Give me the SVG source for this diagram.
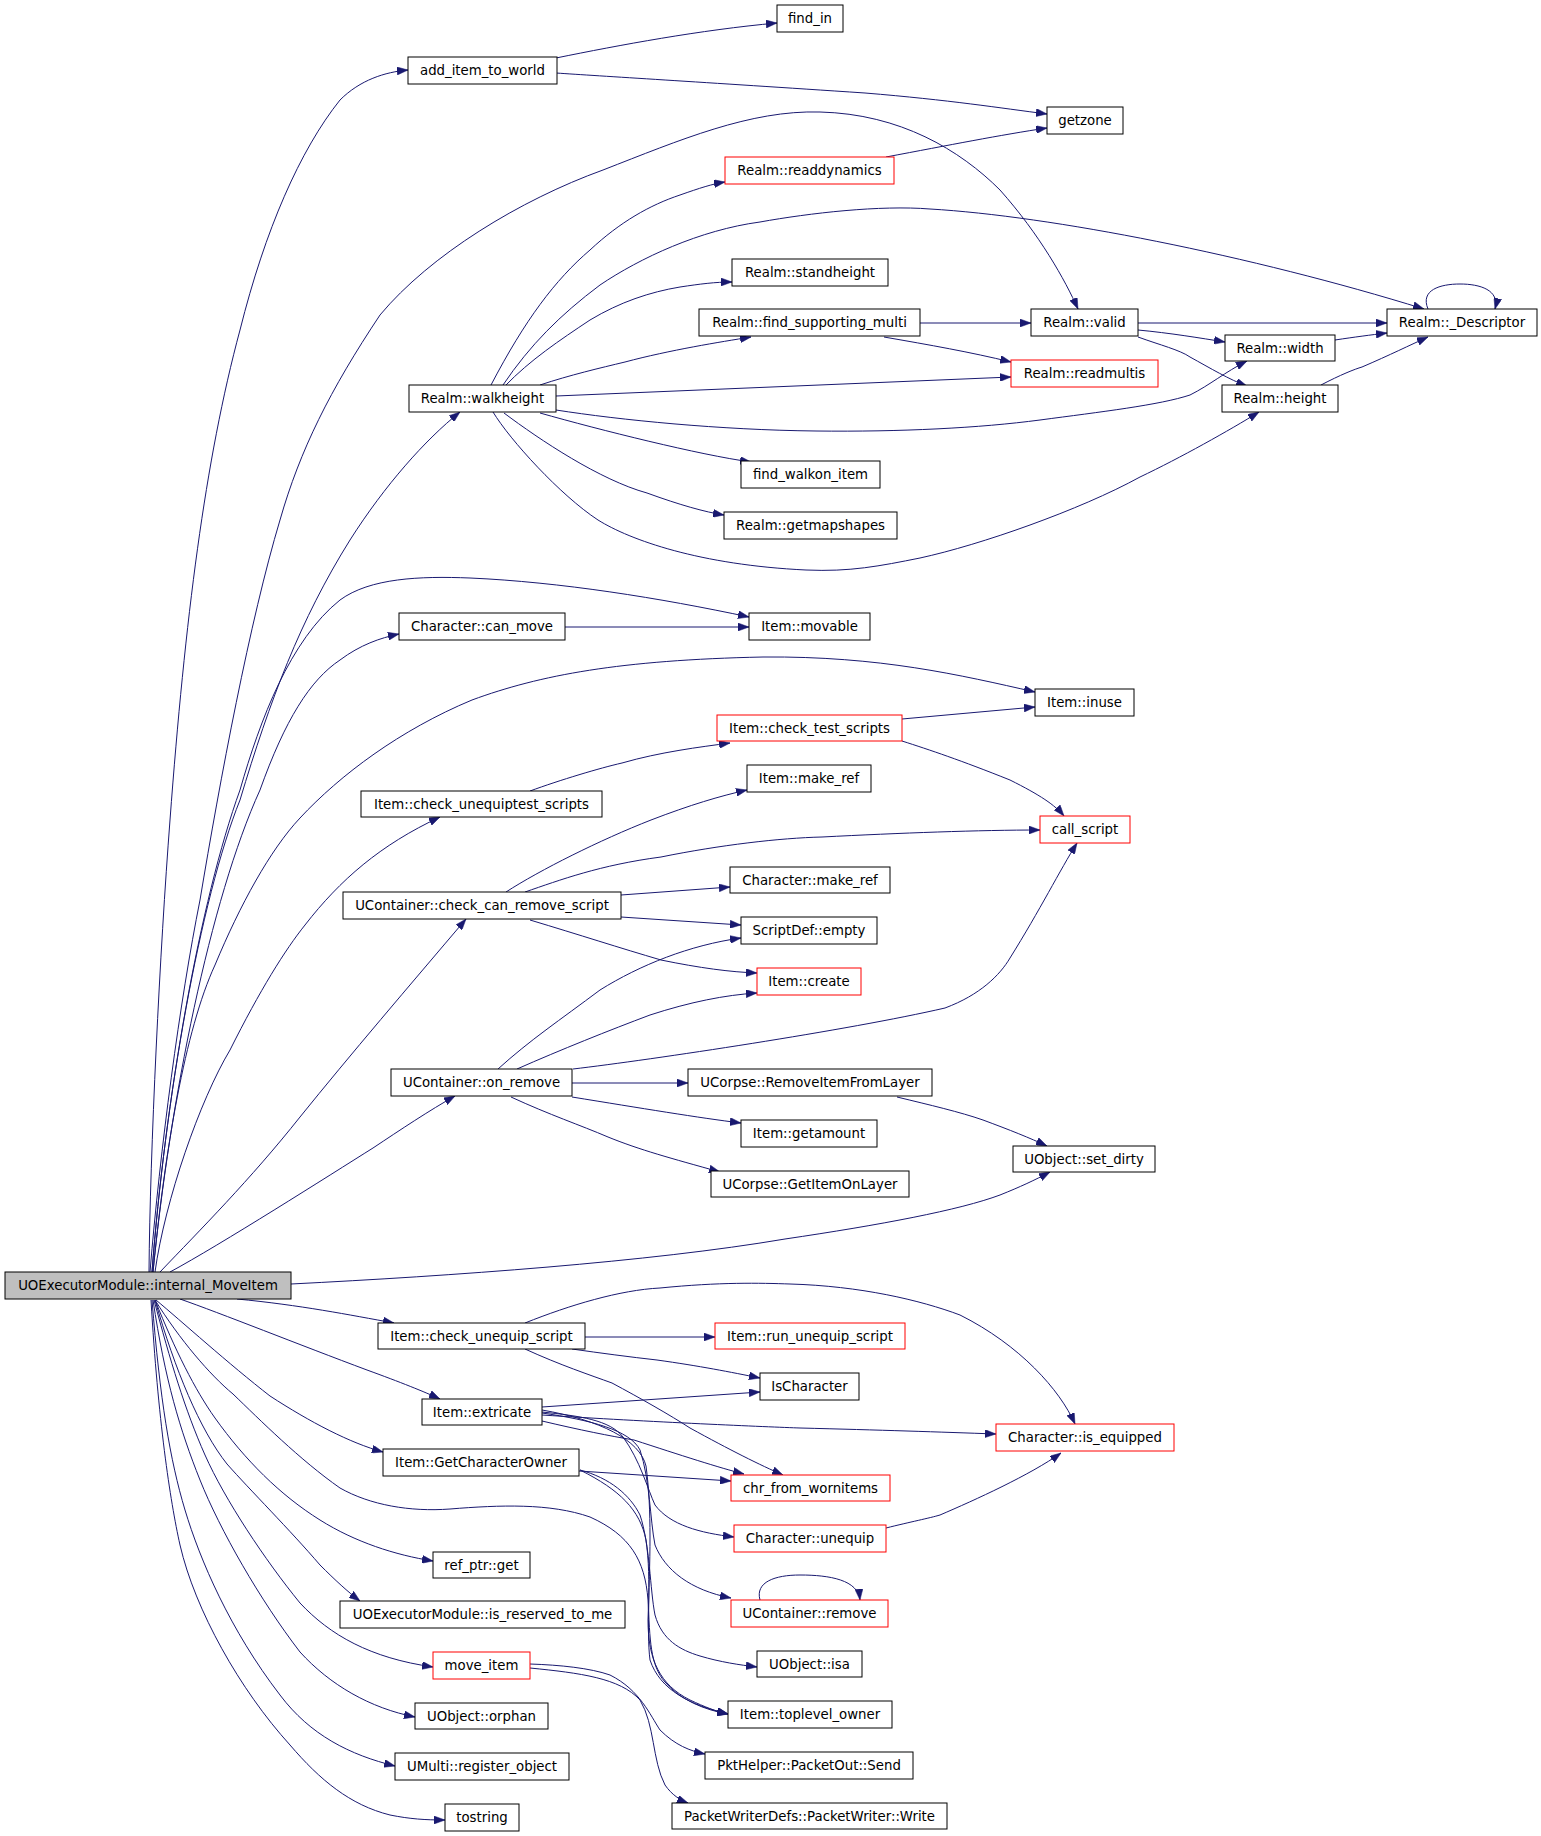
<svg xmlns="http://www.w3.org/2000/svg" width="1541" height="1836" viewBox="0 0 1541 1836">
<style>
.n rect{fill:#ffffff;stroke:#000000;stroke-width:1}
.n.r rect{stroke:#ff0000}
.n.root rect{fill:#bfbfbf}
.n text{font-family:"DejaVu Sans","Liberation Sans",sans-serif;font-size:13.3px;fill:#000000;text-anchor:middle}
.e path{fill:none;stroke:#191970;stroke-width:1;marker-end:url(#ah)}
</style>
<defs>
<marker id="ah" viewBox="0 0 11 8" refX="11" refY="4" markerWidth="11" markerHeight="8" orient="auto" markerUnits="userSpaceOnUse"><path d="M0,0L11,4L0,8z" fill="#191970" stroke="#191970" stroke-width="0.5"/></marker>
</defs>
<rect width="1541" height="1836" fill="#ffffff"/>
<g id="edges" class="e">
<path d="M149,1272 C150,1150 160,950 170,820 C185,620 205,460 240,330 C265,230 300,150 340,100 C360,80 385,72 408,70"/>
<path d="M150,1272 C160,1150 180,1000 200,900 C220,780 250,620 280,520 C300,450 330,390 380,315 C430,255 520,200 603,170 C680,140 750,110 820,112 C900,114 960,150 1000,190 C1040,235 1065,280 1078,309"/>
<path d="M152,1272 C165,1100 200,900 240,800 C270,700 300,620 350,540 C385,485 425,440 460,412"/>
<path d="M152,1272 C165,1100 200,900 240,790 C260,720 290,640 340,600 C370,578 420,576 470,578 C560,582 660,598 749,617"/>
<path d="M153,1272 C170,1100 210,900 260,790 C285,720 310,680 340,660 C360,645 380,638 399,634"/>
<path d="M153,1272 C165,1150 185,1030 215,965 C240,905 270,850 300,818 C340,775 400,730 472,700 C540,675 620,660 763,657 C880,656 960,675 1035,692"/>
<path d="M155,1272 C165,1200 200,1100 230,1050 C260,990 285,950 305,925 C340,880 380,845 440,817"/>
<path d="M160,1272 C200,1230 250,1180 300,1117 C350,1055 410,985 466,919"/>
<path d="M170,1272 C220,1245 330,1175 373,1148 C400,1130 430,1110 455,1096"/>
<path d="M291,1284 C450,1276 650,1262 785,1239 C880,1225 960,1210 1000,1195 C1020,1187 1035,1180 1050,1172"/>
<path d="M237,1299 C300,1305 350,1315 394,1323"/>
<path d="M180,1299 C220,1313 300,1345 367,1370 C400,1382 425,1392 440,1399"/>
<path d="M156,1300 C180,1320 230,1365 270,1396 C310,1422 350,1443 383,1452"/>
<path d="M155,1300 C180,1340 210,1375 233,1394 C260,1420 300,1460 340,1488 C370,1505 410,1512 450,1509 C500,1505 550,1503 590,1517 C630,1535 645,1560 648,1600 C650,1640 650,1665 665,1682 C680,1700 705,1710 728,1714"/>
<path d="M155,1300 C175,1350 195,1390 215,1418 C245,1460 280,1495 320,1520 C355,1542 395,1555 433,1561"/>
<path d="M155,1300 C175,1370 200,1430 227,1464 C250,1490 290,1530 320,1565 C335,1580 348,1592 360,1601"/>
<path d="M154,1300 C170,1360 185,1410 205,1455 C225,1500 265,1560 300,1603 C330,1635 370,1658 433,1667"/>
<path d="M153,1300 C165,1380 180,1430 200,1480 C220,1530 260,1600 300,1652 C330,1685 370,1708 415,1717"/>
<path d="M152,1300 C160,1400 170,1460 185,1510 C200,1560 230,1630 280,1695 C310,1735 350,1755 395,1766"/>
<path d="M151,1300 C158,1420 170,1500 180,1545 C195,1610 240,1690 290,1745 C320,1780 350,1805 390,1815 C410,1819 425,1820 445,1820"/>
<path d="M491,385 C525,320 555,280 590,250 C620,222 650,205 680,195 C700,188 712,184 725,182"/>
<path d="M503,385 C530,345 560,315 600,285 C640,258 700,230 760,222 C810,213 880,205 930,209 C1050,216 1250,255 1424,309"/>
<path d="M505,386 C530,360 560,340 590,320 C620,302 650,292 680,287 C700,284 715,282 732,282"/>
<path d="M540,385 C570,375 600,368 625,362 C670,350 720,342 751,337"/>
<path d="M556,396 L1011,377"/>
<path d="M556,410 C620,420 720,430 816,431 C900,432 980,428 1040,420 C1100,412 1160,405 1190,395 C1210,385 1225,372 1247,361"/>
<path d="M493,412 C510,440 560,495 598,520 C630,540 700,565 806,570 C850,572 880,566 920,558 C980,545 1080,510 1140,477 C1180,458 1230,430 1259,412"/>
<path d="M540,413 C600,430 700,455 751,462"/>
<path d="M504,413 C540,440 600,480 647,493 C680,505 705,512 724,515"/>
<path d="M556,58 C620,45 700,30 777,23"/>
<path d="M556,73 C600,76 700,82 865,93 C950,100 1000,108 1047,114"/>
<path d="M886,157 C950,145 1000,135 1047,128"/>
<path d="M920,323 L1031,323"/>
<path d="M884,337 C930,345 970,352 1011,362"/>
<path d="M1138,323 L1387,323"/>
<path d="M1138,330 C1170,333 1200,338 1225,342"/>
<path d="M1138,337 C1160,345 1180,350 1190,357 C1210,368 1230,380 1247,386"/>
<path d="M1335,340 C1355,337 1370,335 1387,333"/>
<path d="M1321,385 C1340,375 1355,369 1362,367 C1390,355 1410,345 1428,337"/>
<path d="M1428,309 C1420,290 1440,284 1460,284 C1480,284 1500,290 1495,309"/>
<path d="M565,627 L749,627"/>
<path d="M902,719 L1035,707"/>
<path d="M902,741 C930,750 960,760 1010,780 C1040,795 1055,805 1064,816"/>
<path d="M530,791 C560,780 600,768 622,763 C660,752 700,747 730,743"/>
<path d="M506,892 C540,870 600,840 651,820 C690,805 720,796 747,790"/>
<path d="M525,892 C560,880 600,865 661,857 C720,845 780,838 822,837 C900,833 980,830 1040,830"/>
<path d="M621,895 L730,887"/>
<path d="M621,917 L741,925"/>
<path d="M530,920 C580,935 620,948 661,960 C700,968 730,972 757,973"/>
<path d="M498,1069 C530,1040 560,1020 600,990 C640,965 690,945 741,938"/>
<path d="M517,1069 C560,1050 610,1030 650,1015 C690,1002 725,995 757,993"/>
<path d="M573,1069 C650,1060 850,1030 945,1008 C980,995 1000,975 1010,958 C1040,910 1060,870 1077,843"/>
<path d="M572,1083 L688,1083"/>
<path d="M572,1097 C640,1108 700,1118 741,1123"/>
<path d="M511,1097 C550,1115 580,1125 608,1137 C640,1150 670,1158 720,1172"/>
<path d="M897,1097 C930,1105 960,1112 983,1120 C1010,1130 1030,1138 1047,1146"/>
<path d="M585,1337 L715,1337"/>
<path d="M525,1323 C570,1305 620,1290 660,1288 C720,1282 760,1283 790,1284 C860,1286 920,1300 960,1315 C1020,1345 1060,1390 1075,1424"/>
<path d="M572,1349 C600,1353 630,1357 657,1360 C700,1366 730,1372 760,1378"/>
<path d="M525,1349 C560,1365 590,1375 612,1383 C640,1398 670,1415 690,1428 C730,1450 760,1465 783,1475"/>
<path d="M542,1407 L760,1392"/>
<path d="M542,1415 C650,1422 770,1427 800,1428 C880,1430 940,1432 996,1434"/>
<path d="M542,1421 C580,1430 610,1436 634,1440 C680,1455 720,1468 744,1474"/>
<path d="M542,1412 C580,1416 610,1420 623,1437 C640,1460 648,1490 655,1505 C670,1525 700,1533 734,1537"/>
<path d="M542,1413 C590,1420 630,1430 640,1450 C650,1480 650,1520 655,1545 C665,1570 690,1590 731,1598"/>
<path d="M542,1410 C600,1420 640,1440 646,1466 C652,1510 650,1560 648,1620 C648,1660 660,1685 690,1700 C705,1707 715,1711 728,1714"/>
<path d="M579,1471 L731,1481"/>
<path d="M580,1470 C610,1478 630,1495 640,1515 C650,1545 650,1590 655,1615 C662,1640 680,1650 700,1656 C720,1662 740,1665 757,1667"/>
<path d="M580,1470 C620,1490 640,1510 646,1540 C652,1580 646,1630 650,1660 C660,1690 690,1705 728,1714"/>
<path d="M886,1528 C910,1522 930,1518 940,1515 C975,1500 1030,1475 1061,1453"/>
<path d="M760,1600 C755,1582 775,1575 800,1575 C830,1575 858,1580 860,1600"/>
<path d="M530,1664 C560,1665 590,1668 610,1675 C640,1690 650,1715 660,1730 C675,1745 690,1751 705,1754"/>
<path d="M530,1668 C580,1673 620,1678 640,1700 C655,1725 652,1760 665,1785 C672,1795 680,1800 688,1803"/>
</g>
<g id="node_root" class="n root"><rect x="5" y="1272" width="286" height="27"/><text x="148" y="1290">UOExecutorModule::internal_MoveItem</text></g>
<g id="node_add_item_to_world" class="n"><rect x="408" y="57" width="149" height="27"/><text x="482.5" y="75">add_item_to_world</text></g>
<g id="node_find_in" class="n"><rect x="777" y="5" width="66" height="27"/><text x="810" y="23">find_in</text></g>
<g id="node_getzone" class="n"><rect x="1047" y="107" width="76" height="27"/><text x="1085" y="125">getzone</text></g>
<g id="node_readdynamics" class="n r"><rect x="725" y="157" width="169" height="27"/><text x="809.5" y="175">Realm::readdynamics</text></g>
<g id="node_descriptor" class="n"><rect x="1387" y="309" width="150" height="27"/><text x="1462" y="327">Realm::_Descriptor</text></g>
<g id="node_standheight" class="n"><rect x="732" y="259" width="156" height="27"/><text x="810" y="277">Realm::standheight</text></g>
<g id="node_find_supporting_multi" class="n"><rect x="699" y="309" width="221" height="27"/><text x="809.5" y="327">Realm::find_supporting_multi</text></g>
<g id="node_valid" class="n"><rect x="1031" y="309" width="107" height="27"/><text x="1084.5" y="327">Realm::valid</text></g>
<g id="node_width" class="n"><rect x="1225" y="335" width="110" height="26"/><text x="1280" y="352.5">Realm::width</text></g>
<g id="node_readmultis" class="n r"><rect x="1011" y="360" width="147" height="27"/><text x="1084.5" y="378">Realm::readmultis</text></g>
<g id="node_height" class="n"><rect x="1222" y="385" width="116" height="27"/><text x="1280" y="403">Realm::height</text></g>
<g id="node_walkheight" class="n"><rect x="409" y="385" width="147" height="27"/><text x="482.5" y="403">Realm::walkheight</text></g>
<g id="node_find_walkon_item" class="n"><rect x="741" y="461" width="139" height="27"/><text x="810.5" y="479">find_walkon_item</text></g>
<g id="node_getmapshapes" class="n"><rect x="724" y="512" width="173" height="27"/><text x="810.5" y="530">Realm::getmapshapes</text></g>
<g id="node_movable" class="n"><rect x="749" y="613" width="121" height="27"/><text x="809.5" y="631">Item::movable</text></g>
<g id="node_can_move" class="n"><rect x="399" y="613" width="166" height="27"/><text x="482" y="631">Character::can_move</text></g>
<g id="node_inuse" class="n"><rect x="1035" y="689" width="99" height="27"/><text x="1084.5" y="707">Item::inuse</text></g>
<g id="node_check_test_scripts" class="n r"><rect x="717" y="715" width="185" height="26"/><text x="809.5" y="732.5">Item::check_test_scripts</text></g>
<g id="node_item_make_ref" class="n"><rect x="747" y="765" width="124" height="27"/><text x="809" y="783">Item::make_ref</text></g>
<g id="node_check_unequiptest_scripts" class="n"><rect x="361" y="791" width="241" height="26"/><text x="481.5" y="808.5">Item::check_unequiptest_scripts</text></g>
<g id="node_call_script" class="n r"><rect x="1040" y="816" width="90" height="27"/><text x="1085" y="834">call_script</text></g>
<g id="node_char_make_ref" class="n"><rect x="730" y="867" width="160" height="26"/><text x="810" y="884.5">Character::make_ref</text></g>
<g id="node_check_can_remove_script" class="n"><rect x="343" y="892" width="278" height="27"/><text x="482" y="910">UContainer::check_can_remove_script</text></g>
<g id="node_scriptdef_empty" class="n"><rect x="741" y="917" width="136" height="27"/><text x="809" y="935">ScriptDef::empty</text></g>
<g id="node_item_create" class="n r"><rect x="757" y="968" width="104" height="27"/><text x="809" y="986">Item::create</text></g>
<g id="node_on_remove" class="n"><rect x="391" y="1069" width="181" height="27"/><text x="481.5" y="1087">UContainer::on_remove</text></g>
<g id="node_removeitemfromlayer" class="n"><rect x="688" y="1069" width="244" height="27"/><text x="810" y="1087">UCorpse::RemoveItemFromLayer</text></g>
<g id="node_getamount" class="n"><rect x="741" y="1120" width="136" height="27"/><text x="809" y="1138">Item::getamount</text></g>
<g id="node_set_dirty" class="n"><rect x="1013" y="1146" width="142" height="26"/><text x="1084" y="1163.5">UObject::set_dirty</text></g>
<g id="node_getitemonlayer" class="n"><rect x="711" y="1171" width="198" height="26"/><text x="810" y="1188.5">UCorpse::GetItemOnLayer</text></g>
<g id="node_check_unequip_script" class="n"><rect x="378" y="1323" width="207" height="26"/><text x="481.5" y="1340.5">Item::check_unequip_script</text></g>
<g id="node_run_unequip_script" class="n r"><rect x="715" y="1323" width="190" height="26"/><text x="810" y="1340.5">Item::run_unequip_script</text></g>
<g id="node_ischaracter" class="n"><rect x="760" y="1373" width="99" height="27"/><text x="809.5" y="1391">IsCharacter</text></g>
<g id="node_extricate" class="n"><rect x="422" y="1399" width="120" height="26"/><text x="482" y="1416.5">Item::extricate</text></g>
<g id="node_is_equipped" class="n r"><rect x="996" y="1424" width="178" height="27"/><text x="1085" y="1442">Character::is_equipped</text></g>
<g id="node_getcharacterowner" class="n"><rect x="383" y="1449" width="196" height="27"/><text x="481" y="1467">Item::GetCharacterOwner</text></g>
<g id="node_chr_from_wornitems" class="n r"><rect x="731" y="1475" width="159" height="26"/><text x="810.5" y="1492.5">chr_from_wornitems</text></g>
<g id="node_unequip" class="n r"><rect x="734" y="1525" width="152" height="27"/><text x="810" y="1543">Character::unequip</text></g>
<g id="node_ref_ptr_get" class="n"><rect x="433" y="1552" width="97" height="26"/><text x="481.5" y="1569.5">ref_ptr::get</text></g>
<g id="node_is_reserved_to_me" class="n"><rect x="340" y="1601" width="285" height="27"/><text x="482.5" y="1619">UOExecutorModule::is_reserved_to_me</text></g>
<g id="node_ucontainer_remove" class="n r"><rect x="731" y="1600" width="157" height="27"/><text x="809.5" y="1618">UContainer::remove</text></g>
<g id="node_move_item" class="n r"><rect x="433" y="1652" width="97" height="27"/><text x="481.5" y="1670">move_item</text></g>
<g id="node_uobject_isa" class="n"><rect x="757" y="1651" width="105" height="26"/><text x="809.5" y="1668.5">UObject::isa</text></g>
<g id="node_orphan" class="n"><rect x="415" y="1703" width="133" height="26"/><text x="481.5" y="1720.5">UObject::orphan</text></g>
<g id="node_toplevel_owner" class="n"><rect x="728" y="1701" width="164" height="27"/><text x="810" y="1719">Item::toplevel_owner</text></g>
<g id="node_packetout_send" class="n"><rect x="705" y="1752" width="208" height="27"/><text x="809" y="1770">PktHelper::PacketOut::Send</text></g>
<g id="node_register_object" class="n"><rect x="395" y="1753" width="174" height="27"/><text x="482" y="1771">UMulti::register_object</text></g>
<g id="node_tostring" class="n"><rect x="445" y="1804" width="74" height="27"/><text x="482" y="1822">tostring</text></g>
<g id="node_packetwriter_write" class="n"><rect x="672" y="1803" width="275" height="26"/><text x="809.5" y="1820.5">PacketWriterDefs::PacketWriter::Write</text></g>
</svg>
